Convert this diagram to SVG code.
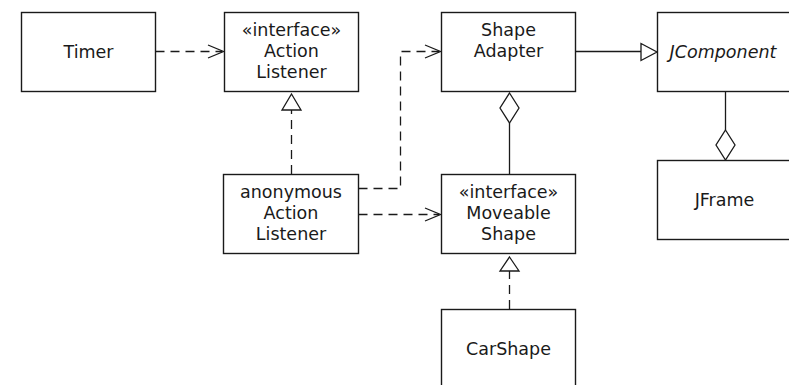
<svg xmlns="http://www.w3.org/2000/svg" width="789" height="385" viewBox="0 0 789 385">
<style>
.box{fill:#fff;stroke:#1a1a1a;stroke-width:1.4}
.t{font-family:"DejaVu Sans","Verdana",sans-serif;font-size:17.5px;fill:#1a1a1a;text-anchor:middle}
.it{font-style:italic}
.ln{fill:none;stroke:#1a1a1a;stroke-width:1.3}
.d{stroke-dasharray:9,6}
.head{fill:#fff;stroke:#1a1a1a;stroke-width:1.3}
.open{fill:none;stroke:#1a1a1a;stroke-width:1.3}
</style>
<rect width="789" height="385" fill="#fff"/>
<g id="connectors">
  <path class="ln d" d="M155.5,51.5 H222"/>
  <path class="open" d="M208,45 L223.5,51.5 L208,58"/>
  <path class="ln d" d="M291.5,174 V110"/>
  <path class="head" d="M291.5,94 L301,110 L282,110 Z"/>
  <path class="ln d" d="M358.5,188.5 H400.5 V51.5 H439"/>
  <path class="open" d="M425,45 L440.5,51.5 L425,58"/>
  <path class="ln d" d="M358.5,214.5 H439"/>
  <path class="open" d="M425,208 L440.5,214.5 L425,221"/>
  <path class="ln" d="M509.5,174 V123"/>
  <path class="head" d="M509.5,93 L519,108 L509.5,123 L500,108 Z"/>
  <path class="ln" d="M575.5,51.5 H641"/>
  <path class="head" d="M641,43.5 L657,52 L641,60.5 Z"/>
  <path class="ln" d="M725.5,91 V130"/>
  <path class="head" d="M725.5,130 L735,145 L725.5,160 L716,145 Z"/>
  <path class="ln d" d="M509.5,309 V271"/>
  <path class="head" d="M509.5,257 L519,271 L500,271 Z"/>
</g>
<g id="timer">
  <rect class="box" x="21.5" y="12.5" width="134" height="79"/>
  <text class="t" x="88.5" y="57.5">Timer</text>
</g>
<g id="actionListener">
  <rect class="box" x="224.5" y="12.5" width="134" height="79"/>
  <text class="t" x="291.5" y="36">«interface»</text>
  <text class="t" x="291.5" y="57">Action</text>
  <text class="t" x="291.5" y="78">Listener</text>
</g>
<g id="shapeAdapter">
  <rect class="box" x="441.5" y="12.5" width="134" height="79"/>
  <text class="t" x="508.5" y="36">Shape</text>
  <text class="t" x="508.5" y="57">Adapter</text>
</g>
<g id="jcomponent">
  <rect class="box" x="657.5" y="12.5" width="134" height="79"/>
  <text class="t it" x="723" y="57.5">JComponent</text>
</g>
<g id="jframe">
  <rect class="box" x="657.5" y="160.5" width="134" height="79"/>
  <text class="t" x="724.5" y="205.5">JFrame</text>
</g>
<g id="anonymousActionListener">
  <rect class="box" x="223.5" y="174.5" width="135" height="79"/>
  <text class="t" x="291" y="198">anonymous</text>
  <text class="t" x="291" y="219">Action</text>
  <text class="t" x="291" y="240">Listener</text>
</g>
<g id="moveableShape">
  <rect class="box" x="441.5" y="174.5" width="134" height="79"/>
  <text class="t" x="508.5" y="198">«interface»</text>
  <text class="t" x="508.5" y="219">Moveable</text>
  <text class="t" x="508.5" y="240">Shape</text>
</g>
<g id="carShape">
  <rect class="box" x="441.5" y="309.5" width="134" height="79"/>
  <text class="t" x="508.5" y="354.5">CarShape</text>
</g>
</svg>
